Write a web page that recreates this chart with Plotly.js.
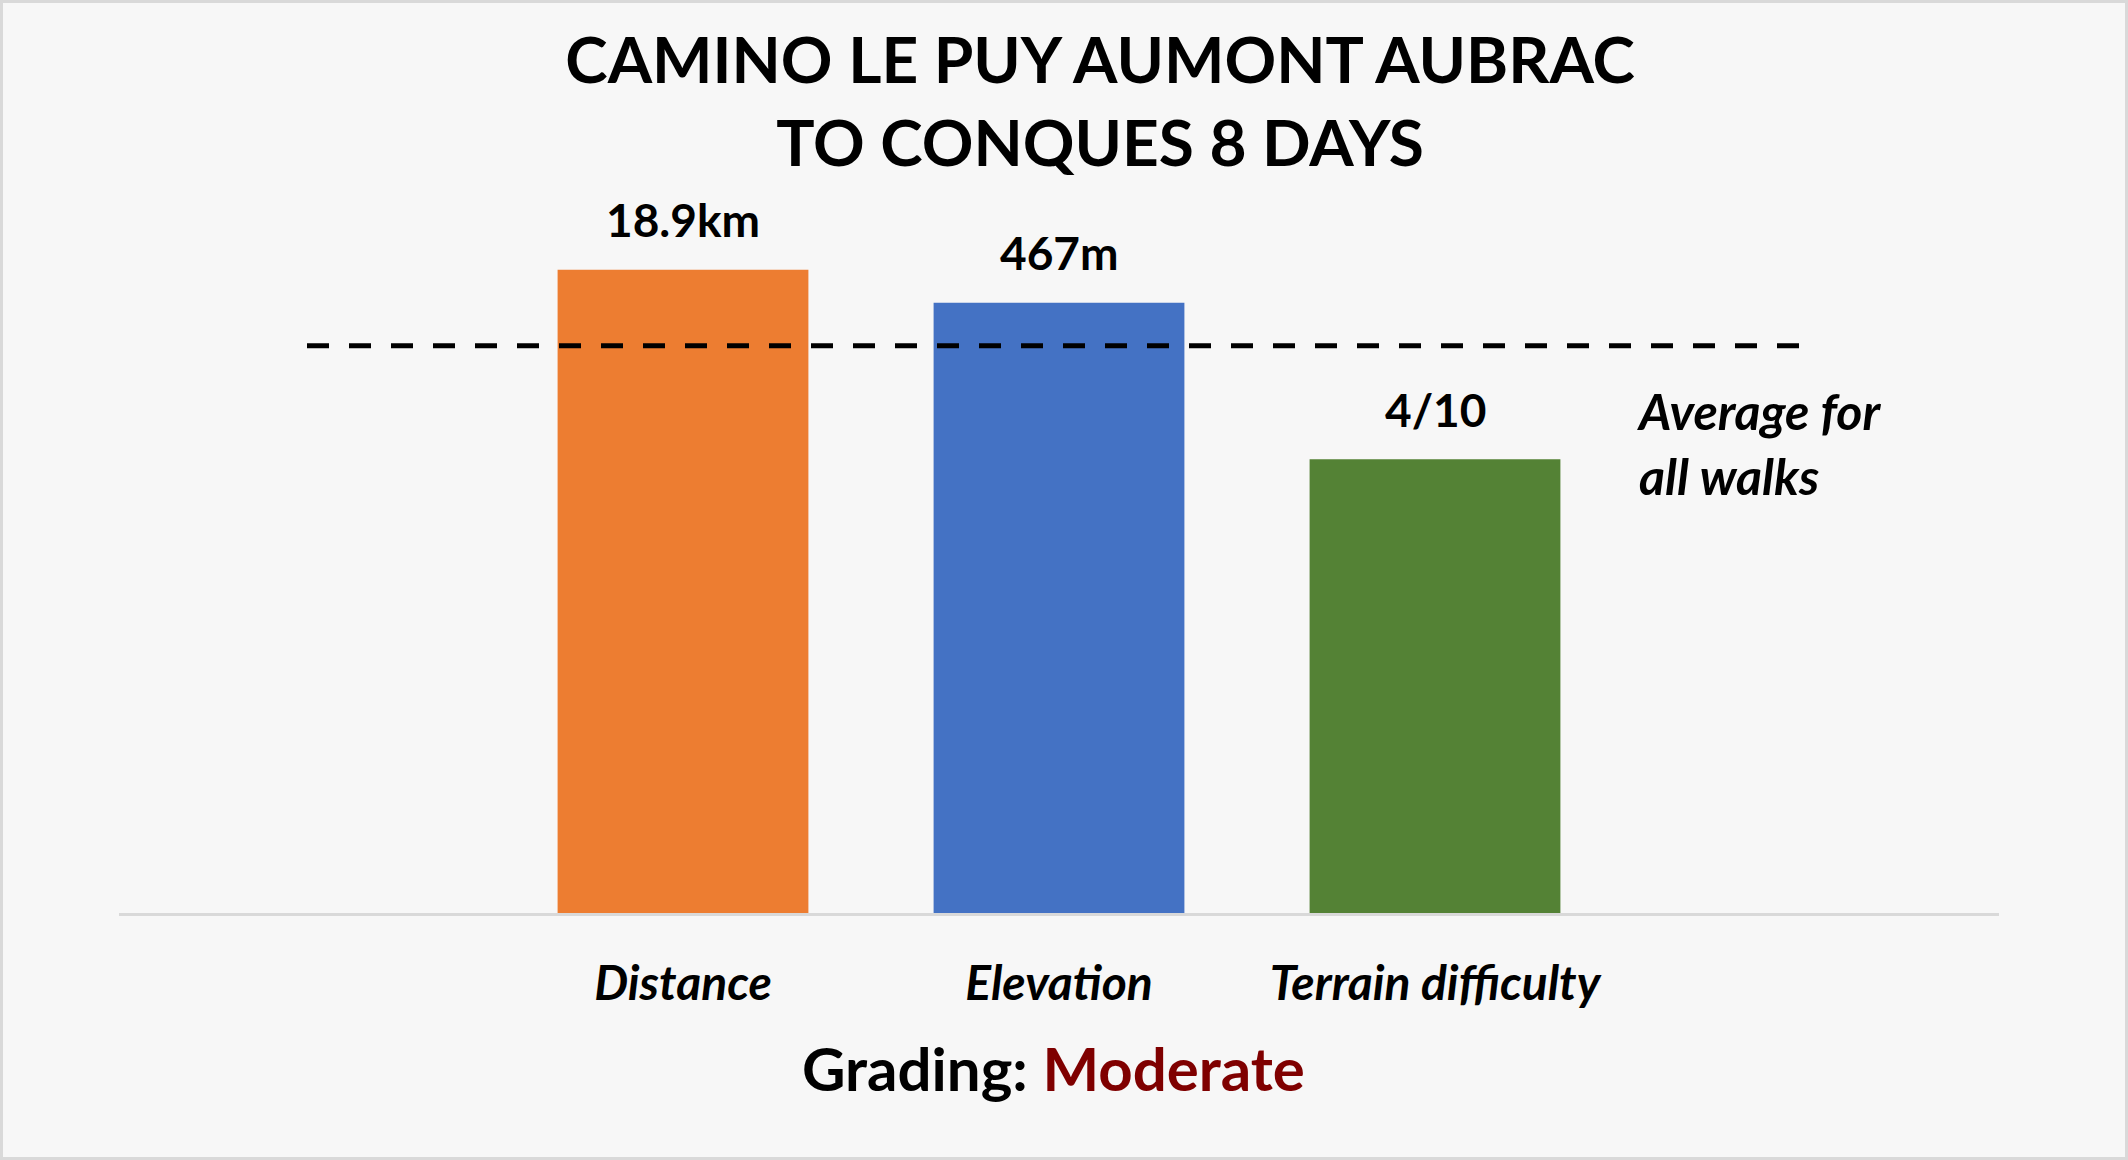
<!DOCTYPE html>
<html>
<head>
<meta charset="utf-8">
<script src="https://cdn.plot.ly/plotly-3.0.1.min.js"></script>
<style>
  html, body { margin: 0; padding: 0; background: #f7f7f7; }
  #wrap { width: 2128px; height: 1160px; box-sizing: border-box; border: 3px solid #d9d9d9; background: #f7f7f7; }
  #chart { width: 2122px; height: 1154px; }
</style>
</head>
<body>
<div id="wrap"><div id="chart"></div></div>
<script>
// ---- data ----
const categories = ['Distance', 'Elevation', 'Terrain difficulty'];
const valueLabels = ['18.9km', '467m', '4/10'];
// bar heights relative to the average of all walks (average = 1)
const relativeValues = [1.134, 1.076, 0.80];
const averageValue = 1.0;
const averageLabel = 'Average for<br>all walks';
const titleText = 'CAMINO LE PUY AUMONT AUBRAC<br>TO CONQUES 8 DAYS';
const gradingLabel = 'Grading: ';
const gradingValue = 'Moderate';
const barColors = ['#ED7D31', '#4472C4', '#548235'];

const FONT = 'Lato, "Open Sans", sans-serif';

const trace = {
  type: 'bar',
  x: categories,
  y: relativeValues,
  marker: { color: barColors, line: { width: 0 } },
  hoverinfo: 'skip'
};

const labelAnnotations = categories.map((c, i) => ({
  x: c, y: relativeValues[i], xref: 'x', yref: 'y',
  text: valueLabels[i], showarrow: false,
  xanchor: 'center', yanchor: 'middle', yshift: 50,
  font: { family: FONT, size: 46, color: '#000', weight: 700 }
}));

const layout = {
  width: 2122, height: 1154,
  paper_bgcolor: '#f7f7f7', plot_bgcolor: '#f7f7f7',
  margin: { l: 116, r: 126, t: 116, b: 244 },
  showlegend: false,
  bargap: 0.333,
  title: {
    text: titleText,
    x: 0.517, xref: 'container', xanchor: 'center',
    y: 0.931, yref: 'container', yanchor: 'middle',
    font: { family: FONT, size: 64, color: '#000', weight: 700 }
  },
  xaxis: {
    type: 'category',
    range: [-1.5, 3.5],
    showgrid: false, zeroline: false,
    showline: true, linecolor: '#d9d9d9', linewidth: 3,
    ticks: '', ticklabelstandoff: 26,
    tickfont: { family: FONT, size: 48, color: '#000', weight: 700, style: 'italic' },
    fixedrange: true
  },
  yaxis: {
    range: [0, 1.4],
    visible: false, showgrid: false, zeroline: false,
    fixedrange: true
  },
  shapes: [{
    type: 'line', xref: 'x', yref: 'y',
    x0: -1.0, x1: 2.98, y0: averageValue, y1: averageValue,
    line: { color: '#000', width: 5, dash: '22px,20px' }
  }],
  annotations: labelAnnotations.concat([
    {
      xref: 'paper', yref: 'paper', x: 0.8065, y: 0.5907,
      text: averageLabel, showarrow: false, xanchor: 'left', yanchor: 'middle', align: 'left',
      font: { family: FONT, size: 50, color: '#000', weight: 700, style: 'italic' }
    },
    {
      xref: 'paper', yref: 'paper', x: 0.497, y: -0.195,
      text: gradingLabel + '<span style="color:#7f0000">' + gradingValue + '</span>',
      showarrow: false, xanchor: 'center', yanchor: 'middle',
      font: { family: FONT, size: 60, color: '#000', weight: 700 }
    }
  ])
};

Plotly.newPlot('chart', [trace], layout, { displayModeBar: false, staticPlot: true });
</script>
</body>
</html>
